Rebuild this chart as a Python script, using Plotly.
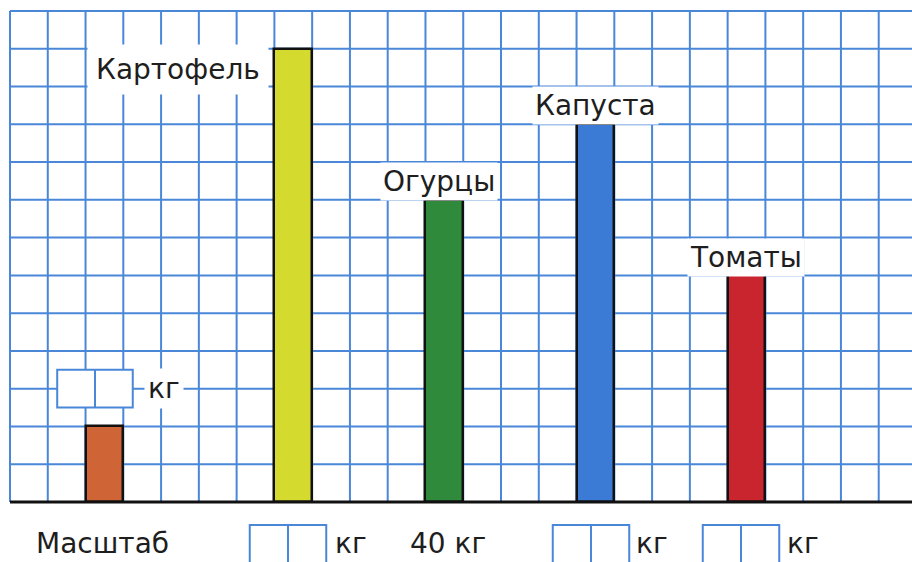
import plotly.graph_objects as go

# ---- data ----
products = ["Картофель", "Огурцы", "Капуста", "Томаты"]
weights_kg = [60, 40, 50, 30]
bar_colors = ["#d5da2e", "#2f8a3c", "#3b7bd6", "#c8252f"]
product_slots = [7, 11, 15, 19]          # grid column where each bar stands
scale_kg = 10
scale_slot = 2
scale_color = "#cf6536"
kg_per_cell = 5
grid_cols = 24
grid_rows = 13
scale_word = "Масштаб"
unit = "кг"

# ---- geometry (pixel mapping of the grid) ----
W, H = 912, 562
SQ = 37.77        # px per grid cell
X0, Y0 = 10, 502  # px of grid origin (left, baseline)
PXKG = SQ / kg_per_cell

def px_x(px):
    return (px - X0) / SQ

def px_y(py):
    return (Y0 - py) / PXKG

GRID = "#4a87d9"
FONT = "DejaVu Sans"
TXT = "#1e1e1e"

fig = go.Figure()

# bars
fig.add_trace(go.Bar(
    x=[scale_slot + 0.5] + [s + 0.5 for s in product_slots],
    y=[scale_kg] + weights_kg,
    width=1,
    marker=dict(color=[scale_color] + bar_colors, line=dict(color="#111111", width=2.5)),
    hoverinfo="skip",
))

shapes = []
x_right = px_x(W + 2)
top_kg = grid_rows * kg_per_cell
for c in range(grid_cols + 1):
    shapes.append(dict(type="line", layer="below", xref="x", yref="y",
                       x0=c, x1=c, y0=0, y1=top_kg, line=dict(color=GRID, width=2)))
for r in range(grid_rows + 1):
    shapes.append(dict(type="line", layer="below", xref="x", yref="y",
                       x0=0, x1=x_right, y0=r * kg_per_cell, y1=r * kg_per_cell,
                       line=dict(color=GRID, width=2)))
# baseline
shapes.append(dict(type="line", layer="above", xref="x", yref="y",
                   x0=0, x1=x_right, y0=0, y1=0, line=dict(color="#111111", width=3)))

def answer_box(xc, y0, y1, w=2.0):
    out = [dict(type="rect", layer="above", xref="x", yref="y",
                x0=xc - w / 2, x1=xc + w / 2, y0=y0, y1=y1,
                fillcolor="white", line=dict(color=GRID, width=2)),
           dict(type="line", layer="above", xref="x", yref="y",
                x0=xc, x1=xc, y0=y0, y1=y1, line=dict(color=GRID, width=2))]
    return out

# box above the scale bar
shapes += answer_box(scale_slot + 0.25, 2.5 * kg_per_cell, 3.5 * kg_per_cell)
# answer boxes in the bottom row
bot_y0, bot_y1 = px_y(566), px_y(525)
for xc in [px_x(288), px_x(591), px_x(741)]:
    shapes += answer_box(xc, bot_y0, bot_y1, w=76.5 / SQ)

ann = []
def label(text, x, y, size=28, bg="white", pad=8):
    ann.append(dict(text=text, x=x, y=y, xref="x", yref="y", showarrow=False,
                    font=dict(family=FONT, size=size, color=TXT),
                    bgcolor=bg, borderpad=pad, xanchor="center", yanchor="middle"))

label(products[0], px_x(178), px_y(69))
label(products[1], px_x(439), px_y(181), pad=2)
label(products[2], px_x(595), px_y(105), pad=2)
label(products[3], px_x(746), px_y(257), pad=2)
label(unit, px_x(164), px_y(388), pad=3)

row_y = px_y(543)
label(scale_word, px_x(102), row_y, bg="rgba(0,0,0,0)", pad=0)
label(unit, px_x(351), row_y, bg="rgba(0,0,0,0)", pad=0)
label(f"{weights_kg[1]} {unit}", px_x(448), row_y, bg="rgba(0,0,0,0)", pad=0)
label(unit, px_x(652), row_y, bg="rgba(0,0,0,0)", pad=0)
label(unit, px_x(803), row_y, bg="rgba(0,0,0,0)", pad=0)

fig.update_layout(
    width=W, height=H,
    margin=dict(l=0, r=0, t=0, b=0),
    paper_bgcolor="white", plot_bgcolor="white",
    showlegend=False,
    xaxis=dict(range=[px_x(0), px_x(W)], visible=False, fixedrange=True),
    yaxis=dict(range=[px_y(H), px_y(0)], visible=False, fixedrange=True),
    shapes=shapes, annotations=ann,
    bargap=0,
)

fig.write_html("out.html", config={"displayModeBar": False},
               post_script="document.body.style.margin='0';document.body.style.overflow='hidden';")
